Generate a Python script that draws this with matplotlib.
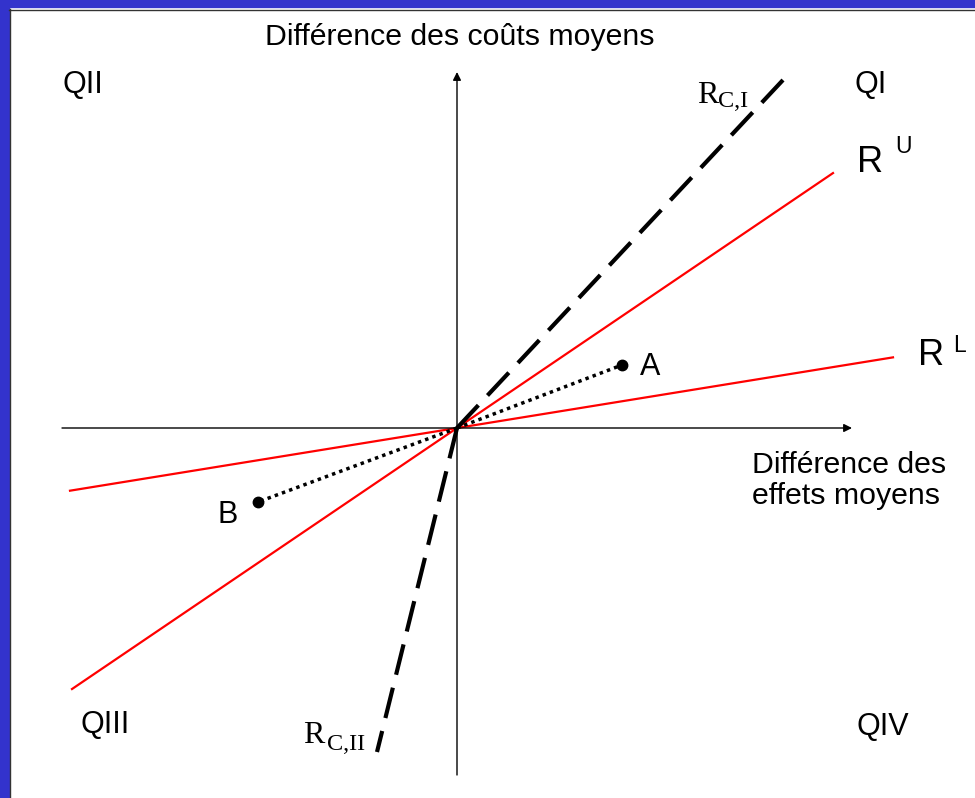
import numpy as np
import matplotlib as mpl
from matplotlib import pyplot as plt
from matplotlib.patches import Rectangle

mpl.rcParams['font.family'] = ['Liberation Sans', 'DejaVu Sans']

# chart data (origin = 0, units ~ pixels of the original drawing)
rci_end = (326.0, 348.0)        # R_C,I dashed ray (quadrant I)
rcii_end = (-80.0, -324.0)      # R_C,II dashed ray (quadrant III)
ru_x = [-385.0, 376.0]          # R^U extent
ru_slope = 0.678
rl_x = [-387.0, 436.0]          # R^L extent
rl_slope = 0.162
point_names = ['A', 'B']
point_x = [165.0, -199.0]
point_y = [63.0, -74.0]

W, H = 975, 798
f = plt.figure(figsize = (W / 100.0, H / 100.0), dpi = 100)
ax = f.add_axes([0, 0, 1, 1])
ax.set_xlim(-457, W - 457)
ax.set_ylim(-(H - 428), 428)
ax.axis('off')

########################################################################
# frame of the slide
blue = '#3333CC'
f.patches.append(Rectangle((0, 0), 9.0 / W, 1, transform = f.transFigure,
                           color = blue, zorder = 0))
f.patches.append(Rectangle((0, 1 - 7.0 / H), 1, 7.0 / H,
                           transform = f.transFigure, color = blue, zorder = 0))
f.add_artist(plt.Line2D([9.5 / W, 9.5 / W], [0, 1 - 9.0 / H],
                        transform = f.transFigure, color = '#333333', lw = 1.0))
f.add_artist(plt.Line2D([9.0 / W, 1], [1 - 9.5 / H, 1 - 9.5 / H],
                        transform = f.transFigure, color = '#333333', lw = 1.0))

########################################################################
# axes with arrows
arrow = dict(arrowstyle = '-|>', color = 'black', lw = 1.0,
             mutation_scale = 12, shrinkA = 0, shrinkB = 0)
ax.annotate('', xy = (395, 0), xytext = (-395, 0), arrowprops = arrow)
ax.annotate('', xy = (0, 356), xytext = (0, -347), arrowprops = arrow)

########################################################################
# threshold rays
ax.plot([0, rci_end[0]], [0, rci_end[1]], color = 'black', lw = 3.0,
        dashes = (7.5, 3.2), solid_capstyle = 'butt', zorder = 3)
ax.plot([0, rcii_end[0]], [0, rcii_end[1]], color = 'black', lw = 3.0,
        dashes = (7.5, 3.2), solid_capstyle = 'butt', zorder = 3)

xu = np.array(ru_x)
ax.plot(xu, ru_slope * xu, color = '#FF0000', lw = 1.6, zorder = 2)
xl = np.array(rl_x)
ax.plot(xl, rl_slope * xl, color = '#FF0000', lw = 1.6, zorder = 2)

# points A and B joined to the origin
for px, py in zip(point_x, point_y):
    ax.plot([0, px], [0, py], color = 'black', lw = 2.5,
            dashes = (1.0, 1.2), zorder = 4)
ax.plot(point_x, point_y, 'o', color = 'black', ms = 7.5, zorder = 5)

########################################################################
# labels
fs = 21.8
ax.text(-192, 383, 'Différence des coûts moyens', fontsize = fs,
        ha = 'left', va = 'baseline')
ax.text(295, -45, 'Différence des', fontsize = fs, ha = 'left', va = 'baseline')
ax.text(295, -76, 'effets moyens', fontsize = fs, ha = 'left', va = 'baseline')

qs = 22
ax.text(-394, 335, 'QII', fontsize = qs, ha = 'left', va = 'baseline')
ax.text(398, 335, 'QI', fontsize = qs, ha = 'left', va = 'baseline')
ax.text(-377, -305, 'QIII', fontsize = qs, ha = 'left', va = 'baseline')
ax.text(400, -307, 'QIV', fontsize = qs, ha = 'left', va = 'baseline')

ax.text(183, 53, point_names[0], fontsize = qs, ha = 'left', va = 'baseline')
ax.text(-240, -95, point_names[1], fontsize = qs, ha = 'left', va = 'baseline')

ax.text(400, 256, 'R', fontsize = 26, ha = 'left', va = 'baseline')
ax.text(438, 275, 'U', fontsize = 16.5, ha = 'left', va = 'baseline')
ax.text(461, 63, 'R', fontsize = 26, ha = 'left', va = 'baseline')
ax.text(496, 76, 'L', fontsize = 16.5, ha = 'left', va = 'baseline')

serif = ['Liberation Serif', 'DejaVu Serif']
ax.text(240, 325, 'R', fontsize = 23, family = serif, ha = 'left', va = 'baseline')
ax.text(261, 321, 'C,I', fontsize = 17.5, family = serif, ha = 'left',
        va = 'baseline', zorder = 1)
ax.text(-154, -315, 'R', fontsize = 23, family = serif, ha = 'left', va = 'baseline')
ax.text(-130, -322, 'C,II', fontsize = 17.5, family = serif, ha = 'left',
        va = 'baseline')

f.savefig('out.png', dpi = 100)
plt.close()
